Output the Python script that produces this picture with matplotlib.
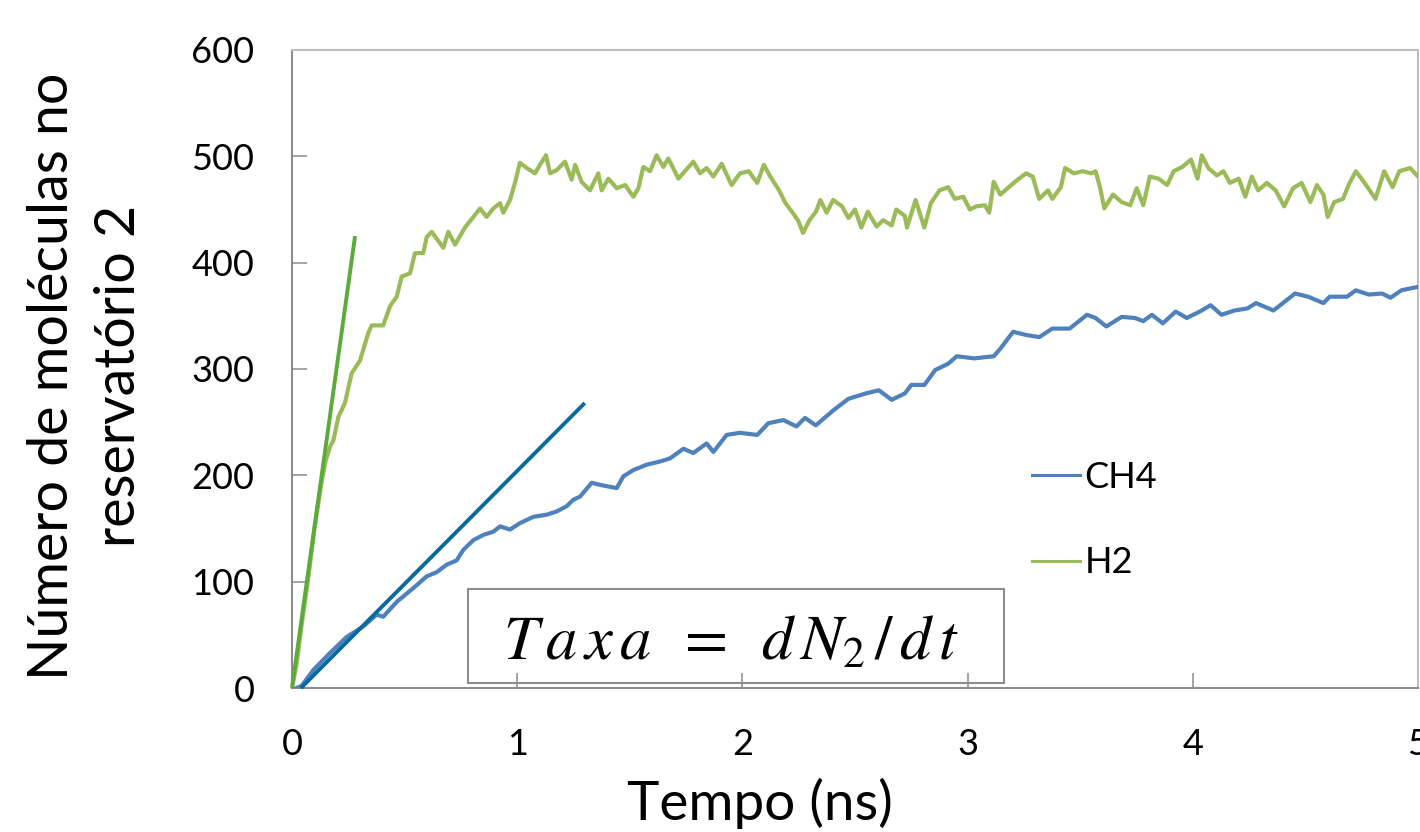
import matplotlib
matplotlib.use("Agg")
import matplotlib.pyplot as plt
from matplotlib.patches import Rectangle

# ---------------- data ----------------
h2_t = [0.0, 0.02, 0.04, 0.07, 0.10, 0.13, 0.15, 0.169, 0.184, 0.206, 0.235, 0.265,
        0.302, 0.339, 0.354, 0.405, 0.435, 0.465, 0.487, 0.524, 0.546, 0.583, 0.598,
        0.620, 0.672, 0.694, 0.724, 0.768, 0.805, 0.835, 0.864, 0.894, 0.924, 0.938,
        0.968, 0.990, 1.012, 1.042, 1.079, 1.101, 1.128, 1.146, 1.175, 1.212, 1.242,
        1.257, 1.286, 1.323, 1.360, 1.375, 1.405, 1.442, 1.479, 1.516, 1.538, 1.560,
        1.590, 1.619, 1.649, 1.671, 1.716, 1.745, 1.782, 1.812, 1.841, 1.871, 1.908,
        1.952, 1.989, 2.028, 2.066, 2.095, 2.124, 2.163, 2.191, 2.220, 2.249, 2.269,
        2.298, 2.327, 2.346, 2.374, 2.403, 2.442, 2.471, 2.500, 2.528, 2.557, 2.596,
        2.625, 2.663, 2.683, 2.721, 2.731, 2.769, 2.808, 2.837, 2.875, 2.914, 2.943,
        2.981, 3.010, 3.039, 3.077, 3.096, 3.116, 3.145, 3.183, 3.222, 3.260, 3.289,
        3.318, 3.357, 3.376, 3.414, 3.433, 3.472, 3.511, 3.549, 3.568, 3.588, 3.607,
        3.645, 3.684, 3.722, 3.751, 3.780, 3.809, 3.848, 3.886, 3.915, 3.953, 3.992,
        4.021, 4.040, 4.069, 4.107, 4.136, 4.165, 4.204, 4.233, 4.262, 4.290, 4.329,
        4.368, 4.406, 4.445, 4.483, 4.522, 4.551, 4.580, 4.599, 4.628, 4.667, 4.696,
        4.724, 4.763, 4.811, 4.850, 4.887, 4.917, 4.965, 5.0]
h2_n = [0, 22, 55, 100, 150, 192, 214, 227, 233, 255, 268, 296,
        308, 334, 341, 341, 359, 368, 387, 390, 409, 409, 424,
        429, 414, 429, 417, 433, 443, 451, 443, 451, 456, 447,
        459, 475, 494, 489, 484, 492, 501, 484, 487, 495, 478,
        492, 476, 468, 484, 468, 479, 470, 473, 462, 470, 490,
        486, 501, 490, 498, 479, 486, 495, 484, 489, 481, 493,
        473, 484, 486, 475, 492, 481, 468, 456, 448, 439, 428,
        440, 448, 459, 447, 459, 453, 442, 450, 433, 448, 434,
        440, 435, 450, 444, 433, 459, 433, 456, 468, 471, 460,
        462, 450, 453, 454, 447, 476, 464, 471, 478, 484, 481,
        460, 468, 460, 471, 489, 484, 486, 484, 486, 471, 451,
        464, 457, 454, 470, 454, 481, 479, 473, 486, 490, 497,
        479, 501, 489, 482, 486, 475, 479, 462, 481, 468, 475,
        468, 453, 470, 475, 457, 473, 464, 443, 457, 460, 475,
        486, 475, 460, 486, 471, 486, 489, 481]

ch4_t = [0.02, 0.043, 0.095, 0.169, 0.243, 0.317, 0.376, 0.405, 0.465, 0.539, 0.598,
         0.643, 0.687, 0.731, 0.761, 0.805, 0.850, 0.894, 0.924, 0.968, 1.012, 1.072,
         1.131, 1.175, 1.220, 1.249, 1.279, 1.331, 1.368, 1.442, 1.471, 1.516, 1.575,
         1.634, 1.679, 1.738, 1.782, 1.841, 1.871, 1.930, 1.989, 2.066, 2.115, 2.182,
         2.240, 2.278, 2.326, 2.403, 2.471, 2.548, 2.606, 2.663, 2.721, 2.750, 2.808,
         2.856, 2.914, 2.952, 3.029, 3.116, 3.145, 3.202, 3.260, 3.318, 3.376, 3.453,
         3.530, 3.568, 3.616, 3.684, 3.742, 3.780, 3.818, 3.867, 3.924, 3.973, 4.031,
         4.079, 4.127, 4.185, 4.243, 4.281, 4.358, 4.406, 4.454, 4.512, 4.580, 4.608,
         4.685, 4.724, 4.782, 4.840, 4.878, 4.926, 4.994]
ch4_n = [0, 2, 17, 33, 48, 58, 69, 67, 81, 94, 105,
         109, 116, 120, 130, 139, 144, 147, 152, 149, 155, 161,
         163, 166, 171, 177, 180, 193, 191, 188, 199, 205, 210,
         213, 216, 225, 221, 230, 222, 238, 240, 238, 249, 252,
         246, 254, 247, 261, 272, 277, 280, 271, 277, 285, 285,
         299, 305, 312, 310, 312, 319, 335, 332, 330, 338, 338,
         351, 348, 340, 349, 348, 345, 351, 343, 354, 348, 354,
         360, 351, 355, 357, 362, 355, 363, 371, 368, 362, 368,
         368, 374, 370, 371, 367, 374, 377]

# tangent lines (initial rate)
tan_h2_t = [0.0, 0.28]
tan_h2_n = [0, 425]
tan_ch4_t = [0.04, 1.30]
tan_ch4_n = [0, 268]

labels = ["CH4", "H2"]
x_ticks = [0, 1, 2, 3, 4, 5]
y_ticks = [0, 100, 200, 300, 400, 500, 600]

# ---------------- figure ----------------
plt.rcParams['font.family'] = ['Lato', 'DejaVu Sans']
plt.rcParams['mathtext.fontset'] = 'stix'

W, H = 1420, 832
fig = plt.figure(figsize=(W / 100, H / 100), dpi=100)
ax = fig.add_axes([292 / W, 1 - 688 / H, (1418 - 292) / W, (688 - 50) / H])

c_ch4 = '#4F81BD'
c_h2 = '#9BBB59'
c_tan_h2 = '#5AAB3A'
c_tan_ch4 = '#0B6A9C'

l_ch4, = ax.plot(ch4_t, ch4_n, color=c_ch4, lw=3.0, label=labels[0], zorder=3)
l_h2, = ax.plot(h2_t, h2_n, color=c_h2, lw=3.0, label=labels[1], zorder=3)
ax.plot(tan_h2_t, tan_h2_n, color=c_tan_h2, lw=2.8, zorder=4,
        solid_capstyle='butt', clip_on=False)
ax.plot(tan_ch4_t, tan_ch4_n, color=c_tan_ch4, lw=2.8, zorder=4,
        solid_capstyle='butt', clip_on=False)

ax.set_xlim(0, 5)
ax.set_ylim(0, 600)
ax.set_xticks(x_ticks)
ax.set_yticks(y_ticks)

axis_col = '#8C8C8C'
border_col = '#BFBFBF'
for s in ['left', 'bottom']:
    ax.spines[s].set_color(axis_col)
    ax.spines[s].set_linewidth(1.5)
for s in ['top', 'right']:
    ax.spines[s].set_color(border_col)
    ax.spines[s].set_linewidth(1.5)

ax.tick_params(axis='both', direction='in', length=10.5, width=1.1,
               color=axis_col, labelsize=26, labelcolor='black')
ax.tick_params(axis='y', pad=27)
ax.tick_params(axis='x', pad=29)

# text box with the rate formula
box = Rectangle((468, H - 683), 1004 - 468, 683 - 589, transform=None,
                facecolor='white', edgecolor='#8C8C8C', lw=1.5, zorder=1)
ax.add_patch(box)
fig.text(731 / W, 1 - 660 / H,
         r'$T\,a\,x\,a\;\;=\;\;d\,N_2\,/\,d\,t$', fontsize=45,
         ha='center', va='baseline', color='black')

# legend
ax.legend(handles=[l_ch4, l_h2], loc='upper left',
          bbox_to_anchor=(1032 / W, 1 - 461 / H), bbox_transform=fig.transFigure,
          frameon=False, fontsize=26, handlelength=1.33, handletextpad=0.12,
          labelspacing=1.45, borderpad=0, borderaxespad=0)
for lh in ax.get_legend().get_lines():
    lh.set_linewidth(2.2)

# axis labels
fig.text(760 / W, 1 - 820 / H, 'Tempo (ns)', fontsize=39.5, ha='center',
         va='baseline')
fig.text(86 / W, 1 - 376 / H, 'Número de moléculas no\nreservatório 2',
         fontsize=40, rotation=90, ha='center', va='center',
         multialignment='center', linespacing=1.38)

fig.savefig('out.png', dpi=100)
